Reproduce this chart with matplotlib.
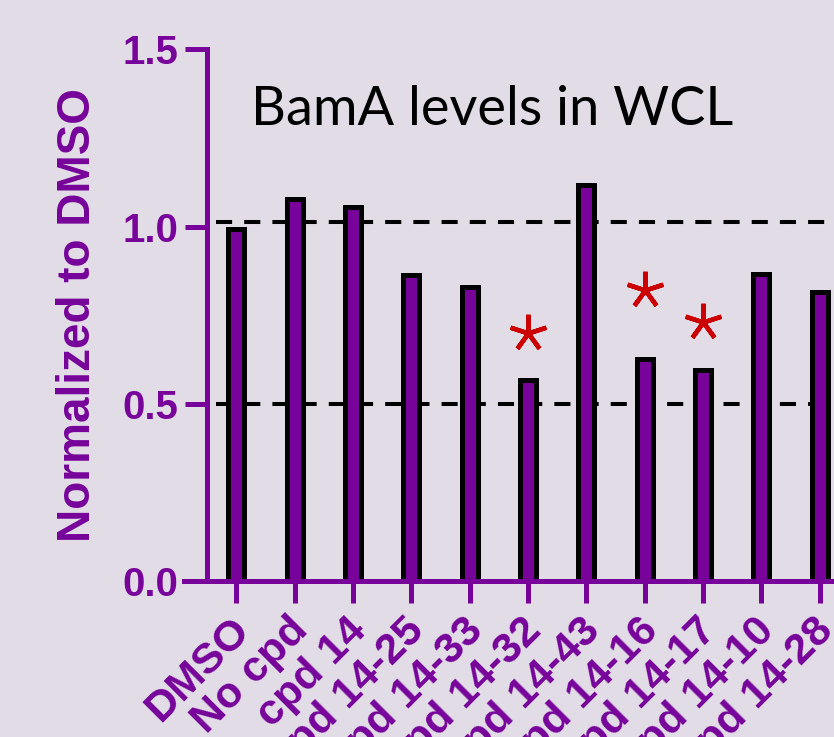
import numpy as np
import matplotlib
matplotlib.use('Agg')
import matplotlib.pyplot as plt
import matplotlib.transforms as mtransforms

# BamA whole-cell-lysate levels, normalized to DMSO
samples = ['DMSO', 'No cpd', 'cpd 14', 'cpd 14-25', 'cpd 14-33', 'cpd 14-32',
           'cpd 14-43', 'cpd 14-16', 'cpd 14-17', 'cpd 14-10', 'cpd 14-28']
levels = [0.993, 1.079, 1.054, 0.864, 0.83, 0.567, 1.116, 0.627, 0.596, 0.865, 0.814]

# significance marks (sample index, height)
sig_idx = [5, 7, 8]
sig_y = [0.70, 0.82, 0.73]

ref_lines = [1.013, 0.5]
yticks = [0.0, 0.5, 1.0, 1.5]

purple = '#77039a'
bg = '#e1dce6'

fig = plt.figure(figsize=(8.34, 7.37), dpi=100, facecolor=bg)
ax = fig.add_axes([0.2206, 0.2117, 0.8042, 0.7214])
ax.set_facecolor(bg)

x = np.arange(len(samples))
ax.bar(x, levels, width=0.275, color=purple, edgecolor='black', linewidth=3.6, zorder=2)

for yl in ref_lines:
    ax.plot([-0.35, 11.5], [yl, yl], color='black', lw=2.9, ls=(0, (4, 3)), zorder=1)

ax.plot(x[sig_idx], sig_y, ls='none', marker=(5, 2, 0), markersize=27,
        markeredgewidth=3.2, color='#cc0000', zorder=3)

ax.set_xlim(-0.9, 10.6)
ax.set_ylim(0, 1.5)

for s in ['top', 'right']:
    ax.spines[s].set_visible(False)
ax.spines['left'].set_position(('data', -0.5))
for s in ['left', 'bottom']:
    ax.spines[s].set_color(purple)
    ax.spines[s].set_linewidth(3.6)
    ax.spines[s].set_zorder(4)

ax.set_yticks(yticks)
ax.set_yticklabels(['%.1f' % v for v in yticks])
ax.set_xticks(x)
ax.set_xticklabels(samples, rotation=45, ha='right', va='top', rotation_mode='anchor')
ax.tick_params(axis='both', colors=purple, width=3.6, length=16, labelsize=29, pad=5)
ax.tick_params(axis='x', labelsize=31)
shift = mtransforms.ScaledTranslation(-7 / 100, 0, fig.dpi_scale_trans)
for lab in ax.get_xticklabels():
    lab.set_transform(lab.get_transform() + shift)
for lab in ax.get_xticklabels() + ax.get_yticklabels():
    lab.set_fontfamily('Liberation Sans')
    lab.set_fontweight('bold')

ax.set_ylabel('Normalized to DMSO', color=purple, fontsize=33, fontweight='bold',
              family='Liberation Sans', labelpad=16)

fig.text(0.590, 0.8304, 'BamA levels in WCL', ha='center', va='baseline',
         fontsize=39, family='Lato', color='black')

fig.savefig('out.png', dpi=100, facecolor=bg)
